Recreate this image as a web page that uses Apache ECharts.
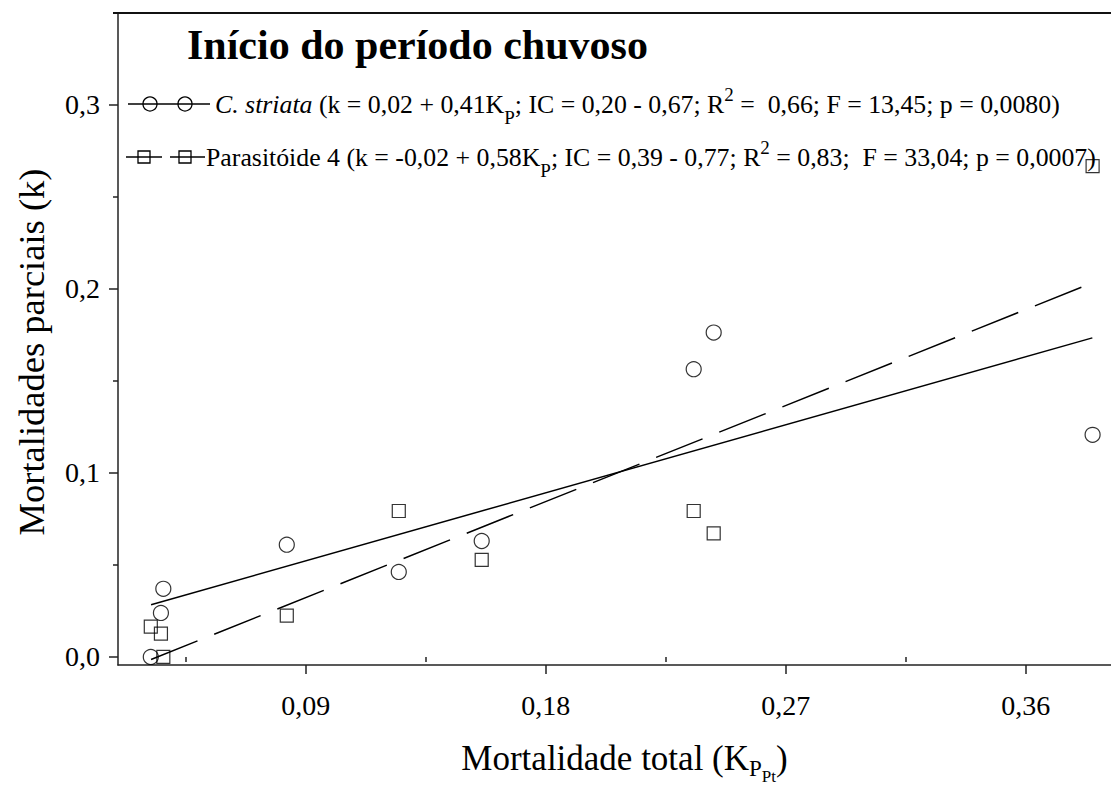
<!DOCTYPE html>
<html>
<head>
<meta charset="utf-8">
<script src="https://cdn.jsdelivr.net/npm/echarts@6/dist/echarts.min.js"></script>
<style>
  html, body { margin: 0; padding: 0; background: #fff; }
  #chart { width: 1111px; height: 791px; }
</style>
</head>
<body>
<div id="chart"></div>
<script>
// Total mortality (K) per sample and the partial mortalities (k)
const kTotal    = [0.0319, 0.0357, 0.0366, 0.0829, 0.1249, 0.1560, 0.2355, 0.2430, 0.3851];
const kStriata  = [0.0000, 0.0239, 0.0370, 0.0610, 0.0462, 0.0630, 0.1564, 0.1763, 0.1207];
const kParasit4 = [0.0165, 0.0127, 0.0000, 0.0224, 0.0793, 0.0527, 0.0793, 0.0672, 0.2668];

// Fitted regression lines, end points [K, k]
const fitStriata  = [[0.032, 0.0284], [0.385, 0.1734]];
const fitParasit4 = [[0.032, -0.0014], [0.385, 0.2033]];

// Axis ranges and tick values
const xRange = [0.0196, 0.392];
const yRange = [-0.0044, 0.35];
const xMajorTicks = [0.09, 0.18, 0.27, 0.36];
const xMinorTicks = [0.045, 0.135, 0.225, 0.315];
const yMajorTicks = [0.0, 0.1, 0.2, 0.3];
const yMinorTicks = [0.05, 0.15, 0.25];

const SERIF = "'Liberation Serif', 'DejaVu Serif', serif";
const INK = '#000';

const pairs = (xs, ys) => xs.map((x, i) => [x, ys[i]]);
const comma = (v, d) => v.toFixed(d).replace('.', ',');

const chart = echarts.init(document.getElementById('chart'), null, { renderer: 'svg' });

const baseAxis = {
  type: 'value',
  splitLine: { show: false },
  axisLine: { show: true, onZero: false, lineStyle: { color: '#222', width: 1.5 } },
};

const legendRich = {
  n:   { fontFamily: SERIF, fontSize: 25.8, color: INK },
  i:   { fontFamily: SERIF, fontSize: 25.8, color: INK, fontStyle: 'italic' },
  sub: { fontFamily: SERIF, fontSize: 19, color: INK, padding: [26, 0, 0, 0] },
  sup: { fontFamily: SERIF, fontSize: 19, color: INK, padding: [0, 0, 20, 0] }
};

const legendStroke = { fill: 'none', stroke: INK, lineWidth: 1.3 };

const option = {
  animation: false,
  backgroundColor: '#fff',
  grid: { left: 118, right: 0, top: 13, bottom: 126, containLabel: false, outerBoundsMode: 'none' },
  xAxis: [
    Object.assign({}, baseAxis, {
      min: xRange[0], max: xRange[1], position: 'bottom',
      axisTick: { show: true, length: 9, customValues: xMajorTicks, lineStyle: { color: '#222', width: 1.5 } },
      axisLabel: {
        customValues: xMajorTicks, formatter: v => comma(v, 2),
        fontFamily: SERIF, fontSize: 28, color: INK, margin: 26
      },
      name: '{n|Mortalidade total (K}{s1|P}{s2|Pt}{n|)}',
      nameLocation: 'middle', nameGap: 67,
      nameTextStyle: {
        padding: [0, 0, 0, 20],
        rich: {
          n:  { fontFamily: SERIF, fontSize: 35, color: INK },
          s1: { fontFamily: SERIF, fontSize: 23, color: INK, padding: [20, 0, 0, 0] },
          s2: { fontFamily: SERIF, fontSize: 17, color: INK, padding: [36, 0, 0, 0] }
        }
      }
    }),
    Object.assign({}, baseAxis, {
      min: xRange[0], max: xRange[1], position: 'bottom',
      axisLine: { show: false },
      axisTick: { show: true, length: 5, customValues: xMinorTicks, lineStyle: { color: '#222', width: 1.5 } },
      axisLabel: { show: false }
    })
  ],
  yAxis: [
    Object.assign({}, baseAxis, {
      min: yRange[0], max: yRange[1], position: 'left',
      axisTick: { show: true, length: 9, customValues: yMajorTicks, lineStyle: { color: '#222', width: 1.5 } },
      axisLabel: {
        customValues: yMajorTicks, formatter: v => comma(v, 1),
        fontFamily: SERIF, fontSize: 28, color: INK, margin: 18
      }
    }),
    Object.assign({}, baseAxis, {
      min: yRange[0], max: yRange[1], position: 'left',
      axisLine: { show: false },
      axisTick: { show: true, length: 5, customValues: yMinorTicks, lineStyle: { color: '#222', width: 1.5 } },
      axisLabel: { show: false }
    })
  ],
  graphic: [
    // top frame line
    { type: 'line', shape: { x1: 113, y1: 13, x2: 1111, y2: 13 }, style: { stroke: '#111', lineWidth: 1.8 }, z: 10 },
    // title
    {
      type: 'text', x: 187, y: 45,
      style: { text: 'Início do período chuvoso', fontFamily: SERIF, fontSize: 42, fontWeight: 'bold', fill: INK, verticalAlign: 'middle' }
    },
    // y axis title, rotated
    {
      type: 'text', x: 31, y: 352, rotation: Math.PI / 2,
      style: { text: 'Mortalidades parciais (k)', fontFamily: SERIF, fontSize: 36.5, fill: INK, align: 'center', verticalAlign: 'middle' }
    },
    // legend row 1: solid line with circles
    { type: 'line', shape: { x1: 128, y1: 104, x2: 210, y2: 104 }, style: { stroke: INK, lineWidth: 1.3 } },
    { type: 'circle', shape: { cx: 150, cy: 104, r: 7 }, style: legendStroke },
    { type: 'circle', shape: { cx: 185, cy: 104, r: 7 }, style: legendStroke },
    {
      type: 'text', x: 215, y: 104,
      style: {
        text: '{i|C. striata}{n| (k = 0,02 + 0,41K}{sub|P}{n|; IC = 0,20 - 0,67; R}{sup|2}{n| =  0,66; F = 13,45; p = 0,0080)}',
        rich: legendRich, verticalAlign: 'middle'
      }
    },
    // legend row 2: dashed line with squares
    { type: 'line', shape: { x1: 126, y1: 157, x2: 162, y2: 157 }, style: { stroke: INK, lineWidth: 1.3 } },
    { type: 'line', shape: { x1: 170, y1: 157, x2: 205, y2: 157 }, style: { stroke: INK, lineWidth: 1.3 } },
    { type: 'rect', shape: { x: 138, y: 151, width: 12, height: 12 }, style: legendStroke },
    { type: 'rect', shape: { x: 179, y: 151, width: 12, height: 12 }, style: legendStroke },
    {
      type: 'text', x: 206, y: 157,
      style: {
        text: '{n|Parasitóide 4 (k = -0,02 + 0,58K}{sub|P}{n|; IC = 0,39 - 0,77; R}{sup|2}{n| = 0,83;  F = 33,04; p = 0,0007)}',
        rich: legendRich, verticalAlign: 'middle'
      }
    }
  ],
  series: [
    {
      name: 'C. striata', type: 'scatter', xAxisIndex: 0, yAxisIndex: 0,
      data: pairs(kTotal, kStriata),
      symbol: 'circle', symbolSize: 15,
      itemStyle: { color: 'rgba(0,0,0,0)', borderColor: INK, borderWidth: 1.2 }, z: 3
    },
    {
      name: 'Parasitóide 4', type: 'scatter', xAxisIndex: 0, yAxisIndex: 0,
      data: pairs(kTotal, kParasit4),
      symbol: 'rect', symbolSize: 13,
      itemStyle: { color: 'rgba(0,0,0,0)', borderColor: INK, borderWidth: 1.2 }, z: 3
    },
    {
      name: 'ajuste C. striata', type: 'line', xAxisIndex: 0, yAxisIndex: 0,
      data: fitStriata, showSymbol: false, symbol: 'none', silent: true,
      lineStyle: { color: INK, width: 1.5, type: 'solid' }, z: 2
    },
    {
      name: 'ajuste Parasitóide 4', type: 'line', xAxisIndex: 0, yAxisIndex: 0,
      data: fitParasit4, showSymbol: false, symbol: 'none', silent: true,
      lineStyle: { color: INK, width: 1.5, type: [50, 18] }, z: 2
    }
  ]
};

chart.setOption(option);
</script>
</body>
</html>
